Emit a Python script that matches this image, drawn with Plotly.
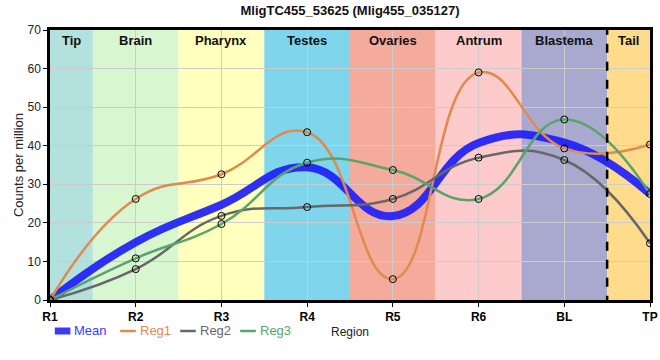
import plotly.graph_objects as go

categories = ["R1", "R2", "R3", "R4", "R5", "R6", "BL", "TP"]
reg1 = [0.0, 26.2, 32.6, 43.5, 5.4, 59.0, 39.3, 40.3]
reg2 = [0.0, 8.0, 21.8, 24.1, 26.2, 36.9, 36.3, 14.7]
reg3 = [0.0, 10.8, 19.7, 35.6, 33.7, 26.2, 46.8, 27.5]
mean = [(a + b + c) / 3 for a, b, c in zip(reg1, reg2, reg3)]

regions = ["Tip", "Brain", "Pharynx", "Testes", "Ovaries", "Antrum", "Blastema", "Tail"]
region_colors = ["#b3e2de", "#d8f6d0", "#ffffbe", "#7fd5ec", "#f5ab9c", "#fdcbcb", "#a9a9d0", "#fedc8c"]

FONT = "Liberation Sans"
fig = go.Figure()

n = len(categories)
# background bands
for i, (name, col) in enumerate(zip(regions, region_colors)):
    x0 = max(i - 0.5, 0)
    x1 = min(i + 0.5, n - 1)
    fig.add_shape(type="rect", xref="x", yref="y", x0=x0, x1=x1, y0=0, y1=70,
                  fillcolor=col, line_width=0, layer="below")
    fig.add_annotation(x=(x0 + x1) / 2, y=70, yref="y", xref="x", text="<b>%s</b>" % name,
                       showarrow=False, yanchor="top", yshift=-1,
                       font=dict(size=13, color="#111", family=FONT))

fig.add_shape(type="line", xref="x", yref="y", x0=n - 1.5, x1=n - 1.5, y0=-1.2, y1=70,
              line=dict(color="black", width=2.5, dash="dash"), layer="above")

xs = categories
smooth = 1.3
mean_col = "rgba(30,30,250,0.92)"
fig.add_trace(go.Scatter(x=xs, y=mean, mode="lines", name="Mean", showlegend=False,
                         line=dict(color=mean_col, width=8, shape="spline", smoothing=smooth)))
series = [("Reg1", reg1, "#e08a4e"), ("Reg2", reg2, "#676767"), ("Reg3", reg3, "#5aa46c")]
for name, vals, col in series:
    fig.add_trace(go.Scatter(x=xs, y=vals, mode="lines", name=name, showlegend=False,
                             line=dict(color=col, width=2.5, shape="spline", smoothing=smooth)))
for name, vals, col in series:
    fig.add_trace(go.Scatter(x=xs, y=vals, mode="markers", showlegend=False,
                             marker=dict(symbol="circle-open", size=7, color="black",
                                         line=dict(width=1, color="black"))))

# legend drawn below the plot (paper coordinates)
legend_items = [("Mean", "#3a3aff", 7, 0.008), ("Reg1", "#e08a4e", 2.5, 0.117),
                ("Reg2", "#676767", 2.5, 0.217), ("Reg3", "#5aa46c", 2.5, 0.317)]
ly = -0.1148
for name, col, w, x in legend_items:
    fig.add_shape(type="line", xref="paper", yref="paper", x0=x, x1=x + 0.026, y0=ly, y1=ly,
                  line=dict(color=col, width=w))
    fig.add_annotation(xref="paper", yref="paper", x=x + 0.031, y=ly, text=name, showarrow=False,
                       xanchor="left", yanchor="middle", borderpad=0,
                       font=dict(size=13, color=col, family=FONT))

fig.update_layout(
    width=660, height=360,
    margin=dict(l=50, r=10, t=30, b=60, autoexpand=False),
    plot_bgcolor="white", paper_bgcolor="white",
    font=dict(family=FONT, size=12, color="#222"),
    title=dict(text="<b>MligTC455_53625 (Mlig455_035127)</b>", x=0.5, xanchor="center",
               xref="paper", y=0.972, yanchor="middle", font=dict(size=13, color="#111")),
    showlegend=False,
    xaxis=dict(type="category", range=[0, n - 1], showgrid=True, gridcolor="#cccccc", gridwidth=1,
               showline=True, linecolor="black", linewidth=2.5, mirror=True, automargin=False,
               ticks="outside", ticklen=4, tickcolor="black",
               tickfont=dict(size=12, color="black", weight="bold"),
               title=dict(text="Region", standoff=5, font=dict(size=12, color="#222"))),
    yaxis=dict(range=[0, 70], dtick=10, showgrid=True, gridcolor="#cccccc", gridwidth=1,
               showline=True, linecolor="black", linewidth=2.5, mirror=True, automargin=False,
               ticks="outside", ticklen=4, tickcolor="black", zeroline=False,
               tickfont=dict(size=12, color="#222"),
               title=dict(text="Counts per million", standoff=1, font=dict(size=13, color="#222"))),
)

fig.write_html("out.html", config={"displayModeBar": False},
               post_script="document.body.style.margin='0';document.body.style.overflow='hidden';")
